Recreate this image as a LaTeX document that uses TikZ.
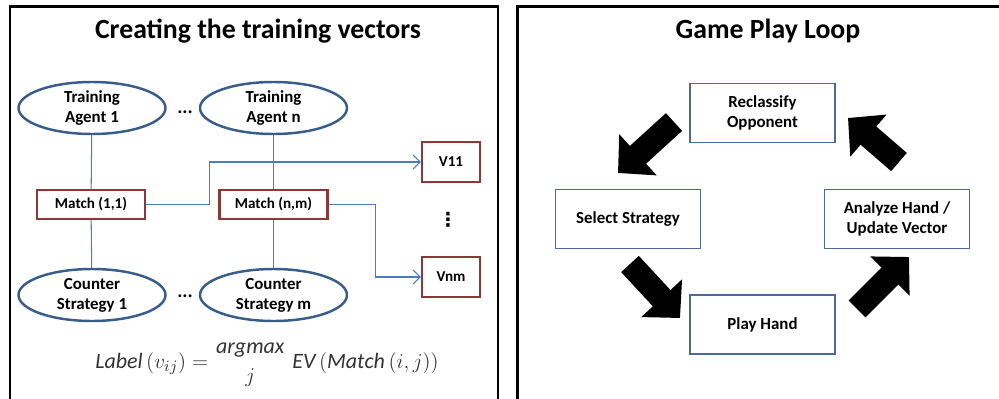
\documentclass[tikz,border=0pt]{standalone}
\usepackage{amsmath}
\usepackage{fontspec}
\setmainfont{Carlito}
\newfontfamily\symbolfont{DejaVu Sans}
\usetikzlibrary{arrows.meta,shapes.geometric}
\definecolor{agentblue}{HTML}{385D8A}
\definecolor{matchred}{HTML}{8C3836}
\definecolor{linkblue}{HTML}{4A7EBB}
\definecolor{loopblue}{HTML}{4A6A9A}

\begin{document}
\begin{tikzpicture}[
    panel/.style={line width=1.4pt},
    heading/.style={font=\fontsize{15.8}{18}\selectfont\bfseries},
    agent/.style={ellipse, draw=agentblue, line width=1.4pt, fill=white,
        minimum width=2.94cm, minimum height=1.04cm, inner sep=0pt, align=center,
        font=\fontsize{9.6}{11.3}\selectfont\bfseries},
    matchbox/.style={rectangle, draw=matchred, line width=1.4pt, fill=white,
        minimum width=2.16cm, minimum height=0.58cm, inner sep=0pt,
        font=\fontsize{8.6}{10}\selectfont\bfseries},
    vecbox/.style={matchbox, minimum width=1.16cm, minimum height=0.8cm},
    link/.style={draw=linkblue, line width=0.6pt},
    loopbox/.style={rectangle, draw=loopblue, line width=1.1pt, fill=white,
        minimum width=2.9cm, minimum height=1.18cm, inner sep=0pt, align=center,
        font=\fontsize{9.6}{11.3}\selectfont\bfseries},
    bigarrow/.style={line width=0.48cm, -{Triangle[length=0.54cm,width=1.08cm]}}
]
    \useasboundingbox (0,0) rectangle (19.98,7.96);

    % the two panels
    \draw[panel] (0.2,-0.5) rectangle (9.96,7.83);
    \draw[panel] (10.35,-0.5) rectangle (20.5,7.83);

    \node[heading] (title1) at (5.16,7.34) {Creating the training vectors};
    \node[heading] (title2) at (15.36,7.34) {Game Play Loop};

    % training side
    \node[agent] (ta1) at (1.84,5.8) {Training\\Agent 1};
    \node[agent] (tan) at (5.47,5.8) {Training\\Agent n};
    \node[font=\fontsize{11}{12}\selectfont\bfseries] (dots1) at (3.7,5.72) {...};

    \node[matchbox] (m11) at (1.82,3.87) {Match (1,1)};
    \node[matchbox] (mnm) at (5.47,3.87) {Match (n,m)};

    \node[agent] (cs1) at (1.84,2.06) {Counter\\Strategy 1};
    \node[agent] (csm) at (5.47,2.06) {Counter\\Strategy m};
    \node[font=\fontsize{11}{12}\selectfont\bfseries] (dots2) at (3.7,2.04) {...};

    \node[vecbox] (v11) at (9.02,4.72) {V11};
    \node[vecbox] (vnm) at (9.02,2.42) {Vnm};
    \node[font=\fontsize{11}{12}\selectfont\symbolfont\bfseries] (vdots) at (8.96,3.56) {⋮};

    \draw[link] (ta1) -- (m11) -- (cs1);
    \draw[link] (tan) -- (mnm) -- (csm);
    \draw[link, -{Straight Barb[length=4pt,width=8pt]}] (m11.east) -- ++(1.26,0) |- (v11.west);
    \draw[link, -{Straight Barb[length=4pt,width=8pt]}] (mnm.east) -- ++(0.94,0) |- (vnm.west);

    \node[text=black!80] (rule) at (5.34,0.66)
        {\fontsize{12.5}{15}\selectfont
         $\mathit{Label}\left(v_{ij}\right)=\genfrac{}{}{0pt}{0}{\mathit{argmax}}{j}\;\mathit{EV}\left(\mathit{Match}\left(i,j\right)\right)$};

    % game play loop
    \node[loopbox] (recl) at (15.25,5.7) {Reclassify\\Opponent};
    \node[loopbox] (sel) at (12.56,3.58) {Select Strategy};
    \node[loopbox] (ana) at (17.94,3.58) {Analyze Hand /\\Update Vector};
    \node[loopbox] (play) at (15.25,1.47) {Play Hand};

    \coordinate (a1s) at (13.48,5.52);
    \coordinate (a1e) at (12.36,4.5);
    \coordinate (a2s) at (17.98,4.72);
    \coordinate (a2e) at (16.96,5.6);
    \coordinate (a3s) at (12.6,2.68);
    \coordinate (a3e) at (13.6,1.6);
    \coordinate (a4s) at (17.14,1.78);
    \coordinate (a4e) at (18.18,2.82);

    \draw[bigarrow] (a1s) -- (a1e);
    \draw[bigarrow] (a2s) -- (a2e);
    \draw[bigarrow] (a3s) -- (a3e);
    \draw[bigarrow] (a4s) -- (a4e);

\end{tikzpicture}
\end{document}
